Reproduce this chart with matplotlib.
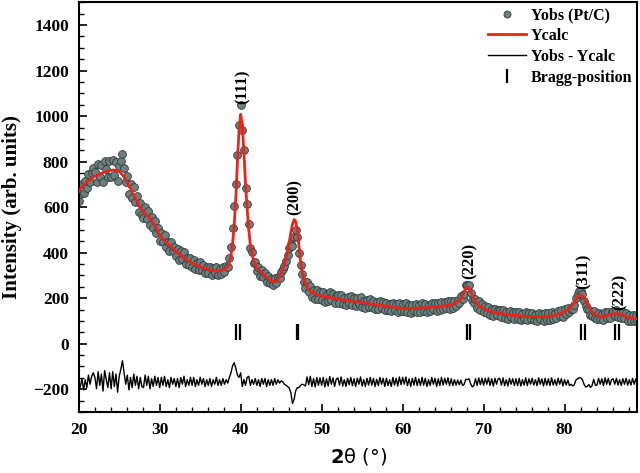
import numpy as np
import matplotlib
matplotlib.use("Agg")
import matplotlib.pyplot as plt
from matplotlib.ticker import MultipleLocator

# ---------------- data ----------------
two_theta_start = 20.0
two_theta_step = 0.2

y_calc = [
    668, 678, 688, 697, 705, 711, 716, 720, 726, 731,
    735, 739, 743, 746, 749, 752, 755, 757, 759, 761,
    762, 763, 763, 762, 760, 756, 750, 742, 732, 720,
    707, 694, 681, 667, 652, 637, 623, 609, 597, 586,
    577, 570, 564, 558, 550, 541, 529, 515, 501, 488,
    477, 468, 460, 452, 444, 437, 431, 425, 419, 412,
    406, 400, 394, 388, 382, 377, 372, 367, 362, 358,
    354, 350, 347, 344, 341, 338, 335, 332, 330, 328,
    326, 324, 322, 321, 320, 319, 319, 320, 321, 323,
    326, 331, 340, 355, 385, 440, 520, 640, 800, 940,
    1008, 960, 840, 700, 593, 500, 435, 395, 365, 345,
    333, 325, 318, 311, 304, 297, 291, 286, 281, 276,
    273, 272, 275, 282, 295, 312, 330, 352, 378, 410,
    447, 488, 525, 546, 538, 495, 425, 360, 315, 285,
    265, 250, 238, 230, 225, 221, 218, 215, 213, 211,
    209, 208, 206, 205, 204, 203, 201, 199, 198, 197,
    196, 195, 194, 193, 192, 191, 190, 189, 188, 187,
    186, 185, 184, 183, 182, 181, 179, 178, 177, 176,
    175, 174, 173, 172, 171, 170, 169, 168, 167, 166,
    165, 164, 163, 162, 161, 160, 159, 158, 157, 156,
    156, 155, 155, 155, 155, 155, 155, 156, 156, 156,
    157, 157, 158, 158, 159, 159, 160, 160, 161, 161,
    162, 162, 163, 163, 164, 165, 166, 167, 168, 170,
    172, 174, 177, 181, 186, 192, 200, 212, 228, 244,
    250, 245, 230, 212, 196, 184, 175, 168, 162, 157,
    153, 150, 147, 144, 142, 140, 138, 137, 135, 134,
    133, 132, 131, 130, 129, 128, 127, 126, 125, 125,
    124, 123, 123, 122, 122, 121, 121, 120, 120, 119,
    119, 119, 118, 118, 118, 118, 118, 118, 119, 119,
    120, 121, 122, 123, 125, 127, 129, 131, 134, 137,
    141, 145, 150, 156, 163, 171, 181, 193, 205, 213,
    215, 210, 199, 186, 172, 159, 148, 139, 132, 127,
    123, 120, 118, 118, 119, 121, 123, 125, 127, 129,
    131, 132, 133, 132, 130, 127, 124, 121, 118, 116,
    114, 113, 112, 111, 110, 110,
]

y_obs = [
    628, 658, 703, 662, 715, 686, 746, 710, 751, 771,
    755, 709, 788, 731, 784, 712, 805, 767, 734, 801,
    732, 808, 743, 797, 715, 781, 805, 835, 772, 710,
    737, 659, 701, 642, 687, 622, 648, 579, 617, 566,
    552, 600, 549, 583, 520, 556, 509, 540, 486, 508,
    452, 488, 445, 477, 424, 447, 406, 445, 409, 427,
    386, 415, 369, 408, 372, 402, 352, 377, 347, 378,
    339, 370, 327, 354, 326, 358, 325, 347, 310, 338,
    311, 339, 302, 331, 310, 339, 304, 330, 306, 338,
    316, 341, 335, 375, 425, 510, 605, 700, 830, 960,
    1048, 940, 850, 685, 613, 525, 420, 405, 355, 360,
    318, 335, 298, 326, 294, 312, 271, 296, 266, 286,
    258, 287, 265, 292, 290, 317, 330, 342, 363, 390,
    420, 440, 430, 470, 500, 470, 400, 345, 305, 272,
    247, 272, 226, 255, 205, 236, 196, 235, 198, 229,
    194, 228, 184, 219, 186, 227, 191, 217, 178, 209,
    214, 181, 216, 175, 202, 171, 206, 177, 208, 171,
    200, 165, 200, 173, 204, 163, 189, 158, 193, 162,
    195, 160, 189, 152, 183, 154, 189, 158, 183, 146,
    181, 148, 173, 142, 181, 146, 175, 140, 179, 144,
    176, 145, 177, 139, 169, 135, 171, 142, 176, 140,
    171, 141, 178, 144, 175, 139, 170, 144, 181, 151,
    178, 142, 177, 147, 184, 151, 182, 157, 186, 154,
    186, 158, 187, 167, 194, 180, 208, 196, 218, 256,
    260, 259, 222, 190, 180, 198, 159, 186, 150, 173,
    139, 166, 137, 162, 126, 154, 120, 153, 125, 148,
    149, 118, 149, 114, 139, 110, 143, 116, 139, 109,
    138, 107, 139, 104, 132, 107, 139, 104, 134, 109,
    135, 105, 128, 102, 136, 108, 132, 100, 135, 105,
    134, 105, 140, 109, 135, 111, 145, 121, 148, 119,
    151, 131, 158, 140, 153, 153, 169, 201, 219, 231,
    233, 220, 189, 164, 152, 147, 124, 123, 144, 113,
    109, 136, 108, 132, 103, 139, 113, 141, 113, 139,
    145, 122, 149, 118, 140, 111, 138, 111, 134, 102,
    124, 99, 128, 101, 124, 102,
]

diff_offset = -168

bragg_phase1 = [39.45, 46.9, 67.95, 82.0, 86.2]
bragg_phase2 = [39.9, 47.02, 68.3, 82.5, 86.7]
bragg_level = 52

peak_labels = ["(111)", "(200)", "(220)", "(311)", "(222)"]
peak_label_x = [40.3, 46.7, 68.3, 82.4, 86.8]
peak_label_y = [1053, 566, 285, 241, 149]

# ---------------- figure ----------------
plt.rcParams["font.family"] = ["Liberation Serif", "DejaVu Serif"]
plt.rcParams["font.weight"] = "bold"

x = two_theta_start + two_theta_step * np.arange(len(y_obs))
yo = np.array(y_obs, dtype=float)
yc = np.array(y_calc, dtype=float)

fig = plt.figure(figsize=(6.4, 4.73), dpi=100)
ax = fig.add_axes([0.123, 0.129, 0.873, 0.866])

ax.plot(x, yo, linestyle="none", marker="o", markersize=5.6,
        markerfacecolor="#6d7f7e", markeredgecolor="#2e3b3a",
        markeredgewidth=0.6, label="Yobs (Pt/C)", zorder=2)
ax.plot(x, yc, color="#e8251b", lw=2.0, label="Ycalc", zorder=3)
ax.plot(x, yo - yc + diff_offset, color="black", lw=1.0,
        label="Yobs - Ycalc", zorder=3)
ax.plot(bragg_phase1, [bragg_level] * len(bragg_phase1), linestyle="none",
        marker="|", markersize=11, markeredgewidth=1.6, color="black",
        label="Bragg-position")
ax.plot(bragg_phase2, [bragg_level] * len(bragg_phase2), linestyle="none",
        marker="|", markersize=11, markeredgewidth=1.6, color="black")

for lab, px, py in zip(peak_labels, peak_label_x, peak_label_y):
    ax.text(px, py, lab, rotation=90, ha="center", va="bottom",
            fontsize=12, fontweight="bold")

ax.set_xlim(20, 89)
ax.set_ylim(-300, 1500)
ax.xaxis.set_major_locator(MultipleLocator(10))
ax.xaxis.set_minor_locator(MultipleLocator(2))
ax.yaxis.set_major_locator(MultipleLocator(200))
ax.yaxis.set_minor_locator(MultipleLocator(50))
ax.set_yticks([-200, 0, 200, 400, 600, 800, 1000, 1200, 1400])
ax.tick_params(which="major", direction="in", length=6, width=1.2,
               labelsize=12.5, pad=7)
ax.tick_params(which="minor", direction="in", length=3.5, width=1.0)
for lab in ax.get_xticklabels() + ax.get_yticklabels():
    lab.set_fontweight("bold")
for sp in ax.spines.values():
    sp.set_linewidth(1.5)

ax.set_ylabel("Intensity (arb. units)", fontsize=15, fontweight="bold",
              labelpad=8)
ax.set_xlabel(r"$\mathbf{2}$θ (°)", fontsize=14, fontweight="normal",
              family=["DejaVu Sans"], labelpad=6)

leg = ax.legend(loc="upper right", frameon=False, fontsize=11.5,
                handlelength=2.4, handletextpad=0.3, labelspacing=0.3,
                borderaxespad=0.1, borderpad=0.2, markerscale=0.9)
for t in leg.get_texts():
    t.set_fontweight("bold")

fig.savefig("out.png", dpi=100)
